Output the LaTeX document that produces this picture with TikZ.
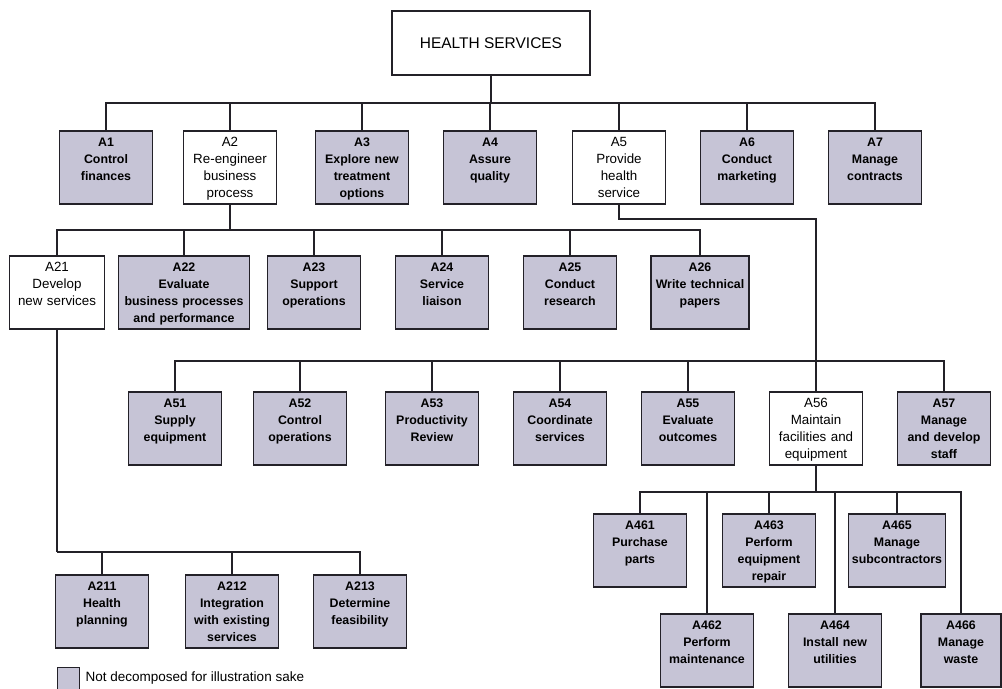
\documentclass[tikz,border=0pt]{standalone}
\usepackage{fontspec}
\setmainfont{Liberation Sans}
\usepackage{tikz}
\usetikzlibrary{positioning}
\usepackage{xcolor}
\definecolor{boxgray}{RGB}{198,196,214}
\definecolor{inkblack}{RGB}{35,33,40}

\begin{document}
\begin{tikzpicture}[x=0.025cm, y=-0.025cm,
  box/.style={draw=inkblack, line width=1.1pt, anchor=north, align=center,
    text width=2.325cm, inner xsep=0pt, inner ysep=0pt,
    text height=0.4cm, text depth=1.425cm},
  whitebox/.style={box, fill=white, font=\fontsize{9.5}{12}\selectfont},
  graybox/.style={box, fill=boxgray, font=\fontsize{8.8}{12}\selectfont\bfseries},
  link/.style={draw=inkblack, line width=0.8pt}]
\useasboundingbox (0,0) rectangle (1002,689);

\node[draw=inkblack, line width=1.1pt, minimum width=4.95cm, minimum height=1.6cm,
  font=\fontsize{11}{13}\selectfont] (hs) at (491,43) {HEALTH SERVICES};

\node[graybox] (a1) at (106,130) {A1\\Control\\finances};
\node[whitebox] (a2) at (230,130) {A2\\Re-engineer\\business\\process};
\node[graybox] (a3) at (362,130) {A3\\Explore new\\treatment\\options};
\node[graybox] (a4) at (490,130) {A4\\Assure\\quality};
\node[whitebox] (a5) at (619,130) {A5\\Provide\\health\\service};
\node[graybox] (a6) at (747,130) {A6\\Conduct\\marketing};
\node[graybox] (a7) at (875,130) {A7\\Manage\\contracts};

\node[whitebox, text width=2.375cm] (a21) at (57,255) {A21\\Develop\\new services};
\node[graybox, text width=3.275cm] (a22) at (184,255) {A22\\Evaluate\\business processes\\and performance};
\node[graybox] (a23) at (314,255) {A23\\Support\\operations};
\node[graybox] (a24) at (442,255) {A24\\Service\\liaison};
\node[graybox] (a25) at (570,255) {A25\\Conduct\\research};
\node[graybox, text width=2.45cm] (a26) at (700,255) {A26\\Write technical\\papers};

\node[graybox] (a51) at (175,391) {A51\\Supply\\equipment};
\node[graybox] (a52) at (300,391) {A52\\Control\\operations};
\node[graybox] (a53) at (432,391) {A53\\Productivity\\Review};
\node[graybox] (a54) at (560,391) {A54\\Coordinate\\services};
\node[graybox] (a55) at (688,391) {A55\\Evaluate\\outcomes};
\node[whitebox] (a56) at (816,391) {A56\\Maintain\\facilities and\\equipment};
\node[graybox] (a57) at (944,391) {A57\\Manage\\and develop\\staff};

% children of A56, in two staggered rows
\node[graybox] (a461) at (640,513) {A461\\Purchase\\parts};
\node[graybox] (a463) at (769,513) {A463\\Perform\\equipment\\repair};
\node[graybox, text width=2.425cm] (a465) at (897,513) {A465\\Manage\\subcontractors};
\node[graybox] (a462) at (707,613) {A462\\Perform\\maintenance};
\node[graybox] (a464) at (835,613) {A464\\Install new\\utilities};
\node[graybox, text width=2.0cm] (a466) at (961,613) {A466\\Manage\\waste};

\node[graybox] (a211) at (102,574) {A211\\Health\\planning};
\node[graybox] (a212) at (232,574) {A212\\Integration\\with existing\\services};
\node[graybox] (a213) at (360,574) {A213\\Determine\\feasibility};

% legend
\node[fill=boxgray, draw=inkblack, line width=0.6pt, minimum size=0.55cm, inner sep=0pt] (key) at (68,678) {};
\node[right=0.15cm of key, inner sep=0pt, font=\fontsize{9.6}{12}\selectfont] (keytext) {Not decomposed for illustration sake};

% connectors
\coordinate (bus0) at (491,103);
\draw[link] (hs) -- (bus0);
\foreach \n in {a1,a2,a3,a4,a5,a6,a7}
  \draw[link] (\n.north) |- (bus0);

\coordinate (bus2) at (230,230);
\draw[link] (a2) -- (bus2);
\foreach \n in {a21,a22,a23,a24,a25,a26}
  \draw[link] (\n.north) |- (bus2);

\coordinate (turn5) at (619,219);
\draw[link] (a5) -- (turn5) -| (a56);
\coordinate (bus5) at (816,361);
\foreach \n in {a51,a52,a53,a54,a55,a57}
  \draw[link] (\n.north) |- (bus5);

\coordinate (bus56) at (816,492);
\draw[link] (a56) -- (bus56);
\foreach \n in {a461,a462,a463,a464,a465,a466}
  \draw[link] (\n.north) |- (bus56);

\coordinate (bus21) at (57,552);
\draw[link] (a21) -- (bus21);
\foreach \n in {a211,a212,a213}
  \draw[link] (\n.north) |- (bus21);
\end{tikzpicture}
\end{document}
